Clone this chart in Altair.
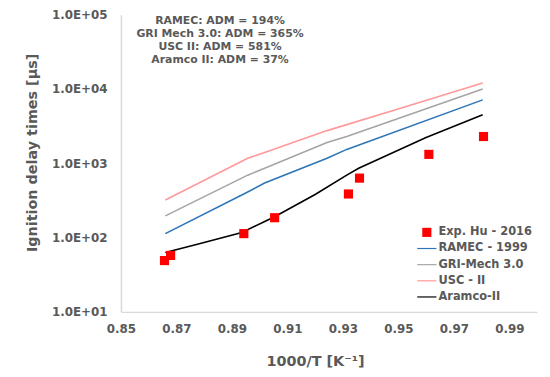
import altair as alt
import pandas as pd

# Experimental data (Hu 2016)
exp_x = [0.8657, 0.8679, 0.8943, 0.9054, 0.9320, 0.9360, 0.9610, 0.9807]
exp_y = [49, 57.5, 113, 185, 386, 631, 1318, 2290]

# Model curves
ramec_x = [0.866, 0.8957, 0.9018, 0.9243, 0.9314, 0.9804]
ramec_y = [113, 410, 541, 1166, 1537, 7130]

gri_x = [0.866, 0.8957, 0.9243, 0.9314, 0.9804]
gri_y = [196, 692, 1905, 2290, 10000]

usc_x = [0.866, 0.8957, 0.9018, 0.9243, 0.9493, 0.9804]
usc_y = [321, 1166, 1400, 2750, 5310, 12000]

aramco_x = [0.866, 0.8786, 0.8936, 0.9054, 0.9200, 0.9314, 0.9357, 0.9600, 0.9804]
aramco_y = [63, 83, 117, 191, 380, 692, 858, 2222, 4500]

series_names = ["Exp. Hu - 2016", "RAMEC - 1999", "GRI-Mech 3.0", "USC - II", "Aramco-II"]
series_colors = ["#FF0000", "#2E75B6", "#A5A5A5", "#FF9999", "#000000"]

annotation_lines = [
    "RAMEC: ADM = 194%",
    "GRI Mech 3.0: ADM = 365%",
    "USC II: ADM = 581%",
    "Aramco II: ADM = 37%",
]

x_ticks = [0.85, 0.87, 0.89, 0.91, 0.93, 0.95, 0.97, 0.99]
y_ticks = [10, 100, 1000, 10000, 100000]

rows = []
for name, xs, ys in [
    ("RAMEC - 1999", ramec_x, ramec_y),
    ("GRI-Mech 3.0", gri_x, gri_y),
    ("USC - II", usc_x, usc_y),
    ("Aramco-II", aramco_x, aramco_y),
]:
    for i, (a, b) in enumerate(zip(xs, ys)):
        rows.append({"series": name, "x": a, "y": b, "order": i})
lines_df = pd.DataFrame(rows)
exp_df = pd.DataFrame({"series": "Exp. Hu - 2016", "x": exp_x, "y": exp_y})

FONT = "DejaVu Sans"
GREY = "#595959"

square_path = "M -1 -1 L 1 -1 L 1 1 L -1 1 Z"
line_path = "M -2.1 -0.13 L 2.1 -0.13 L 2.1 0.13 L -2.1 0.13 Z"

x_enc = alt.X(
    "x:Q",
    scale=alt.Scale(domain=[0.85, 1.0], nice=False, zero=False),
    axis=alt.Axis(
        values=x_ticks, format=".2f", title="1000/T [K⁻¹]",
        grid=False, ticks=False, domainColor="#D9D9D9", domainWidth=1.5,
        labelFont=FONT, labelFontSize=12, labelFontWeight="bold", labelColor=GREY,
        labelPadding=12, labelFlush=False,
        titleFont=FONT, titleFontSize=14.5, titleFontWeight="bold", titleColor=GREY,
        titlePadding=20, titleX=196,
    ),
)
y_enc = alt.Y(
    "y:Q",
    scale=alt.Scale(type="log", domain=[10, 100000], nice=False),
    axis=alt.Axis(
        values=y_ticks,
        labelExpr="'1.0E+0' + format(log(datum.value)/log(10), '.0f')",
        title="Ignition delay times [μs]",
        grid=False, ticks=False, domainColor="#D9D9D9", domainWidth=1.5,
        labelFont=FONT, labelFontSize=12, labelFontWeight="bold", labelColor=GREY,
        labelPadding=14, labelFlush=False,
        titleFont=FONT, titleFontSize=14.5, titleFontWeight="bold", titleColor=GREY,
        titlePadding=12, titleY=139,
    ),
)

color_scale = alt.Scale(domain=series_names, range=series_colors)
shape_scale = alt.Scale(domain=series_names, range=[square_path] + [line_path] * 4)

legend = alt.Legend(
    title=None, orient="none", legendX=303, legendY=214,
    labelFont=FONT, labelFontSize=11.5, labelFontWeight="bold", labelColor=GREY,
    symbolSize=85, rowPadding=3.3, labelOffset=6, symbolStrokeWidth=0,
    symbolOpacity=1,
)

lines = alt.Chart(lines_df).mark_line(strokeWidth=1.6).encode(
    x=x_enc, y=y_enc,
    color=alt.Color("series:N", scale=color_scale, legend=legend),
    detail="series:N",
    order="order:Q",
)

points = alt.Chart(exp_df).mark_point(filled=True, size=85, opacity=1).encode(
    x="x:Q", y="y:Q",
    color=alt.Color("series:N", scale=color_scale, legend=legend),
    shape=alt.Shape("series:N", scale=shape_scale, legend=legend),
)

annotation = alt.Chart(pd.DataFrame({"t": ["\n".join(annotation_lines)]})).mark_text(
    font=FONT, fontSize=11, fontWeight="bold", color=GREY, align="center",
    baseline="top", lineBreak="\n", lineHeight=13.4,
).encode(
    text="t:N",
    x=alt.value(100),
    y=alt.value(0),
)

chart = alt.layer(lines, points, annotation).properties(
    width=420, height=300,
    padding={"left": 114, "top": 5, "right": 5, "bottom": 62},
    autosize=alt.AutoSizeParams(type="none"),
).configure_view(stroke=None)

chart.save("out.html", embed_options={"renderer": "svg", "actions": False})
